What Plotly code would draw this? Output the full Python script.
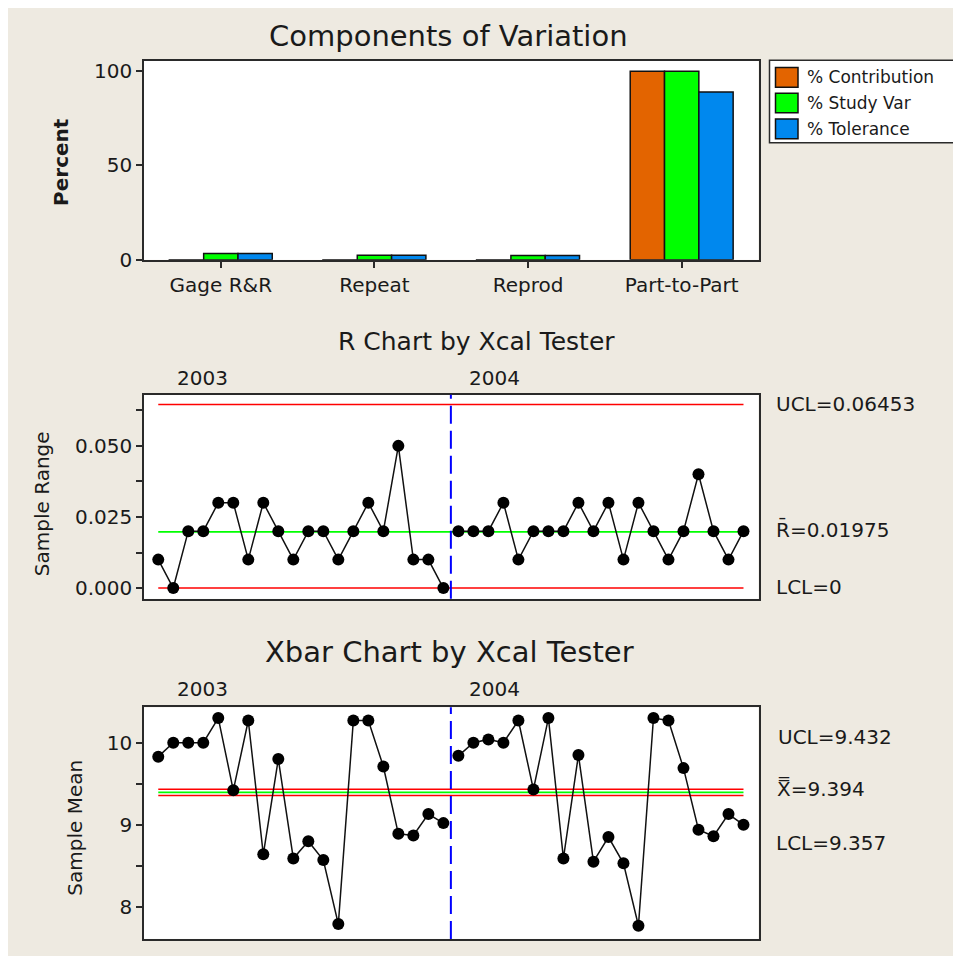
import plotly.graph_objects as go

# page body keeps an 8px white margin only at top/left, as in the reference;
# the figure overflows to the right/bottom window edges
OFF = 8
W, H = 953, 956

# ---------------- data ----------------
components = ["Gage R&R", "Repeat", "Reprod", "Part-to-Part"]
series_names = ["% Contribution", "% Study Var", "% Tolerance"]
pct_contribution = [0.11, 0.06, 0.05, 99.89]
pct_study_var = [3.3, 2.4, 2.3, 99.95]
pct_tolerance = [3.3, 2.4, 2.3, 88.9]
series_colors = ["#E36400", "#00FF00", "#0088EE"]

stages = ["2003", "2004"]
sample_2003 = list(range(1, 21))
sample_2004 = list(range(21, 41))

range_2003 = [0.01, 0.00, 0.02, 0.02, 0.03, 0.03, 0.01, 0.03, 0.02, 0.01,
              0.02, 0.02, 0.01, 0.02, 0.03, 0.02, 0.05, 0.01, 0.01, 0.00]
range_2004 = [0.02, 0.02, 0.02, 0.03, 0.01, 0.02, 0.02, 0.02, 0.03, 0.02,
              0.03, 0.01, 0.03, 0.02, 0.01, 0.02, 0.04, 0.02, 0.01, 0.02]

mean_2003 = [9.83, 10.00, 10.00, 10.00, 10.30, 9.42, 10.27, 8.64, 9.80, 8.59,
             8.80, 8.57, 7.79, 10.27, 10.27, 9.71, 8.89, 8.87, 9.13, 9.02]
mean_2004 = [9.84, 10.00, 10.04, 10.00, 10.27, 9.43, 10.30, 8.59, 9.85, 8.55,
             8.85, 8.53, 7.77, 10.30, 10.27, 9.69, 8.94, 8.86, 9.13, 9.00]

r_ucl, r_center, r_lcl = 0.06453, 0.01975, 0.0
x_ucl, x_center, x_lcl = 9.432, 9.394, 9.357

# ---------------- helpers (window pixel -> paper) ----------------
def px(x):
    return (x - OFF) / W

def py(y):
    return 1 - (y - OFF) / H

BG = "#EEEAE1"
FONT = "DejaVu Sans"
TXT = "#1a1a1a"
LINE = "#2a2a2a"
TICK = 20

fig = go.Figure()

# ---------------- bar chart ----------------
for name, vals, col in zip(series_names,
                           [pct_contribution, pct_study_var, pct_tolerance],
                           series_colors):
    fig.add_trace(go.Bar(x=components, y=vals, name=name, marker_color=col,
                         marker_line=dict(color="#111", width=1.5),
                         xaxis="x", yaxis="y", showlegend=False))

# ---------------- R chart ----------------
all_samples = sample_2003 + sample_2004
for val, col in [(r_ucl, "#FF0000"), (r_center, "#00FF00"), (r_lcl, "#FF0000")]:
    fig.add_trace(go.Scatter(x=[all_samples[0], all_samples[-1]], y=[val, val],
                             mode="lines", line=dict(color=col, width=1.6),
                             xaxis="x2", yaxis="y2", showlegend=False,
                             hoverinfo="skip"))
for xs, ys in [(sample_2003, range_2003), (sample_2004, range_2004)]:
    fig.add_trace(go.Scatter(x=xs, y=ys, mode="lines+markers",
                             line=dict(color="#111", width=1.5),
                             marker=dict(color="#000", size=12),
                             xaxis="x2", yaxis="y2", showlegend=False))

# ---------------- Xbar chart ----------------
for val, col in [(x_ucl, "#FF0000"), (x_center, "#00FF00"), (x_lcl, "#FF0000")]:
    fig.add_trace(go.Scatter(x=[all_samples[0], all_samples[-1]], y=[val, val],
                             mode="lines", line=dict(color=col, width=1.6),
                             xaxis="x3", yaxis="y3", showlegend=False,
                             hoverinfo="skip"))
for xs, ys in [(sample_2003, mean_2003), (sample_2004, mean_2004)]:
    fig.add_trace(go.Scatter(x=xs, y=ys, mode="lines+markers",
                             line=dict(color="#111", width=1.5),
                             marker=dict(color="#000", size=12),
                             xaxis="x3", yaxis="y3", showlegend=False))

# ---------------- axes ----------------
xdom = [px(144), px(758.5)]
common = dict(showline=True, mirror=True, linecolor=LINE, linewidth=1.5,
              showgrid=False, zeroline=False,
              tickfont=dict(family=FONT, size=TICK, color=TXT))

fig.update_layout(
    xaxis=dict(domain=xdom, anchor="y", type="category", range=[-0.5, 3.5],
               ticks="outside", ticklen=6, tickwidth=1.5, tickcolor=LINE, **common),
    yaxis=dict(domain=[py(262.3), py(60.3)], anchor="x", range=[0, 105.6],
               tickvals=[0, 50, 100], ticks="outside", ticklen=6, tickwidth=1.5,
               tickcolor=LINE, **common),
    xaxis2=dict(domain=xdom, anchor="y2", range=[0.05, 41], showticklabels=False,
                ticks="", **common),
    yaxis2=dict(domain=[py(606), py(399)], anchor="x2", range=[-0.0038, 0.068],
                tickvals=[0, 0.025, 0.05], ticktext=["0.000", "0.025", "0.050"],
                ticks="outside", ticklen=6, tickwidth=1.5, tickcolor=LINE,
                minor=dict(ticks="outside", ticklen=6, tickwidth=1.5, tickcolor=LINE,
                           tick0=0, dtick=0.0125),
                **common),
    xaxis3=dict(domain=xdom, anchor="y3", range=[0.05, 41], showticklabels=False,
                ticks="", **common),
    yaxis3=dict(domain=[py(950.7), py(716)], anchor="x3", range=[7.61, 10.43],
                tickvals=[8, 9, 10], ticks="outside", ticklen=6, tickwidth=1.5,
                tickcolor=LINE,
                minor=dict(ticks="outside", ticklen=6, tickwidth=1.5, tickcolor=LINE,
                           tick0=0, dtick=0.5),
                **common),
    barmode="group", bargap=0.33, bargroupgap=0,
    width=W, height=H, margin=dict(l=0, r=0, t=0, b=0),
    paper_bgcolor=BG, plot_bgcolor="white",
    font=dict(family=FONT, color=TXT),
    showlegend=False,
)

shapes = []
# stage dividers
for xa, ya in [("x2", "y2"), ("x3", "y3")]:
    xdiv = (sample_2003[-1] + sample_2004[0]) / 2
    shapes.append(dict(type="line", xref=xa, yref=f"{ya} domain",
                       x0=xdiv, x1=xdiv, y0=0, y1=1,
                       line=dict(color="#0000FF", width=2, dash="18px,7px")))
# legend box (runs off the right edge as in the reference)
shapes.append(dict(type="rect", xref="paper", yref="paper", x0=px(769.5), x1=px(960),
                   y0=py(143.5), y1=py(60), fillcolor="white",
                   line=dict(color=LINE, width=1.5)))
legend_rows = [77.3, 103.3, 129.5]
for yc, col in zip(legend_rows, series_colors):
    shapes.append(dict(type="rect", xref="paper", yref="paper", x0=px(775.5), x1=px(798),
                       y0=py(yc + 10), y1=py(yc - 10), fillcolor=col,
                       line=dict(color="#111", width=1.5)))

annotations = []
for yc, name in zip(legend_rows, series_names):
    annotations.append(dict(x=px(805), y=py(yc), xref="paper", yref="paper",
                            text=name, showarrow=False, xanchor="left", yanchor="middle",
                            font=dict(family=FONT, size=17, color=TXT)))

# titles
for text, xc, yc, fs in [("Components of Variation", 448.5, 35, 29),
                         ("R Chart by Xcal Tester", 476, 345, 25),
                         ("Xbar Chart by Xcal Tester", 449, 660, 29)]:
    annotations.append(dict(x=px(xc), y=py(yc), xref="paper", yref="paper", text=text,
                            showarrow=False, xanchor="center", yanchor="middle",
                            font=dict(family=FONT, size=fs, color=TXT)))

# y axis titles
annotations.append(dict(x=px(61), y=py(163), xref="paper", yref="paper",
                        text="<b>Percent</b>", textangle=-90, showarrow=False,
                        xanchor="center", yanchor="middle",
                        font=dict(family=FONT, size=20, color=TXT)))
annotations.append(dict(x=px(42), y=py(510), xref="paper", yref="paper",
                        text="Sample Range", textangle=-90, showarrow=False,
                        xanchor="center", yanchor="middle",
                        font=dict(family=FONT, size=20, color=TXT)))
annotations.append(dict(x=px(75), y=py(838), xref="paper", yref="paper",
                        text="Sample Mean", textangle=-90, showarrow=False,
                        xanchor="center", yanchor="middle",
                        font=dict(family=FONT, size=20, color=TXT)))

# stage labels
for yc in [382, 697]:
    for label, xc in zip(stages, [202, 494]):
        annotations.append(dict(x=px(xc), y=py(yc), xref="paper", yref="paper",
                                text=label, showarrow=False, xanchor="center",
                                yanchor="middle",
                                font=dict(family=FONT, size=TICK, color=TXT)))

# control limit labels
lab = dict(xref="paper", yref="paper", showarrow=False, xanchor="left",
           yanchor="middle", font=dict(family=FONT, size=TICK, color=TXT))
annotations.append(dict(x=px(774), y=py(408), text=f"UCL={r_ucl}", **lab))
annotations.append(dict(x=px(774), y=py(536), text=f"R\u0304={r_center}", **lab))
annotations.append(dict(x=px(774), y=py(594), text=f"LCL={r_lcl:g}", **lab))
annotations.append(dict(x=px(776), y=py(746), text=f"UCL={x_ucl}", **lab))
annotations.append(dict(x=px(775), y=py(798), text=f"X\u033F={x_center}", **lab))
annotations.append(dict(x=px(774), y=py(853), text=f"LCL={x_lcl}", **lab))

fig.update_layout(shapes=shapes, annotations=annotations)

fig.write_html(
    "out.html",
    post_script="document.documentElement.style.background='white';"
                "document.body.style.margin='8px 0 0 8px';"
                "document.body.style.minHeight='100vh';"
                "document.body.style.background='" + BG + "';"
                "document.body.style.overflow='hidden';",
)
